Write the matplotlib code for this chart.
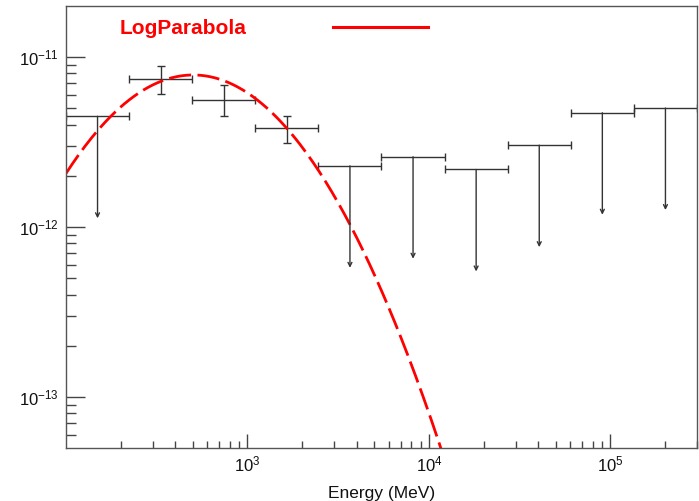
import numpy as np
import matplotlib
matplotlib.use("Agg")
import matplotlib.pyplot as plt
from matplotlib.ticker import FixedLocator, LogLocator, LogFormatterSciNotation, NullFormatter
from matplotlib.lines import Line2D

plt.rcParams['font.family'] = ['Liberation Sans', 'DejaVu Sans']
plt.rcParams['mathtext.fontset'] = 'custom'
plt.rcParams['mathtext.rm'] = 'Liberation Sans'
plt.rcParams['mathtext.it'] = 'Liberation Sans:italic'

# energy bins (MeV), 10 log bins from 100 MeV to 300 GeV
e_lo = [100.0, 222.6, 495.9, 1104.5, 2459.6, 5477.2, 12197.0, 27162.0, 60486.0, 134696.0]
e_hi = [222.6, 495.9, 1104.5, 2459.6, 5477.2, 12197.0, 27162.0, 60486.0, 134696.0, 300000.0]

# detected bins: flux and 1 sigma bounds
det_bins = [1, 2, 3]
det_flux = [7.42e-12, 5.60e-12, 3.81e-12]
det_flux_lo = [6.04e-12, 4.50e-12, 3.13e-12]
det_flux_hi = [8.80e-12, 6.84e-12, 4.52e-12]

# upper limits
ul_bins = [0, 4, 5, 6, 7, 8, 9]
ul_flux = [4.48e-12, 2.29e-12, 2.59e-12, 2.18e-12, 3.03e-12, 4.70e-12, 5.01e-12]

# LogParabola: dN/dE = N0 (E/E0)^-(alpha + beta ln(E/E0))
N0 = 6.15e-18
E0 = 1000.0
alpha = 2.705
beta = 0.512

col = '#333333'
red = '#ff0000'

fig = plt.figure(figsize=(6.99, 5.01), dpi=100)
ax = fig.add_axes([66/699, 53/501, 631/699, 442/501])

e_center = np.sqrt(np.array(e_lo) * np.array(e_hi))

for i, f, flo, fhi in zip(det_bins, det_flux, det_flux_lo, det_flux_hi):
    ec = e_center[i]
    ax.errorbar(ec, f, xerr=[[ec - e_lo[i]], [e_hi[i] - ec]], yerr=[[f - flo], [fhi - f]],
                fmt='none', ecolor=col, elinewidth=1, capsize=3, capthick=1)

for i, f in zip(ul_bins, ul_flux):
    ec = e_center[i]
    ax.errorbar(ec, f, xerr=[[ec - e_lo[i]], [e_hi[i] - ec]],
                fmt='none', ecolor=col, elinewidth=1, capsize=3, capthick=1)
    ax.annotate('', xy=(ec, f * 10**-0.6), xytext=(ec, f),
                arrowprops=dict(arrowstyle='->', color=col, lw=1, shrinkA=0, shrinkB=0,
                                mutation_scale=7))

E = np.logspace(2, np.log10(3e5), 400)
sed = N0 * E**2 * (E / E0)**(-(alpha + beta * np.log(E / E0)))
ax.plot(E, sed, color=red, lw=2, dashes=(8, 2.3))

ax.set_xscale('log')
ax.set_yscale('log')
ax.set_xlim(100, 3e5)
ax.set_ylim(10**-13.3, 10**-10.7)

ax.xaxis.set_major_locator(FixedLocator([1e3, 1e4, 1e5]))
ax.xaxis.set_major_formatter(LogFormatterSciNotation())
ax.xaxis.set_minor_locator(LogLocator(base=10, subs=np.arange(2, 10)))
ax.xaxis.set_minor_formatter(NullFormatter())
ax.yaxis.set_major_locator(FixedLocator([1e-13, 1e-12, 1e-11]))
ax.yaxis.set_major_formatter(LogFormatterSciNotation())
ax.yaxis.set_minor_locator(LogLocator(base=10, subs=np.arange(2, 10)))
ax.yaxis.set_minor_formatter(NullFormatter())

ax.tick_params(axis='x', which='major', direction='in', length=10, width=1, colors='#444444',
               labelcolor='#111111', labelsize=12, pad=5)
ax.tick_params(axis='x', which='minor', direction='in', length=5, width=1, colors='#444444')
ax.tick_params(axis='y', which='major', direction='in', length=14, width=1, colors='#444444',
               labelcolor='#111111', labelsize=12, pad=5)
ax.tick_params(axis='y', which='minor', direction='in', length=7, width=1, colors='#444444')
ax.tick_params(top=False, right=False, which='both')

for s in ax.spines.values():
    s.set_color('#555555')
    s.set_linewidth(1)

ax.set_xlabel('Energy (MeV)', fontsize=12.5, labelpad=8, color='#111111')

# legend entry
ax.text(0.0856, 0.948, 'LogParabola', transform=ax.transAxes, color=red,
        fontsize=15, fontweight='bold', va='center', ha='left')
ax.add_line(Line2D([0.4226, 0.574], [0.9525, 0.9525], transform=ax.transAxes,
                   color=red, lw=2.2))

fig.savefig('out.png', dpi=100)
